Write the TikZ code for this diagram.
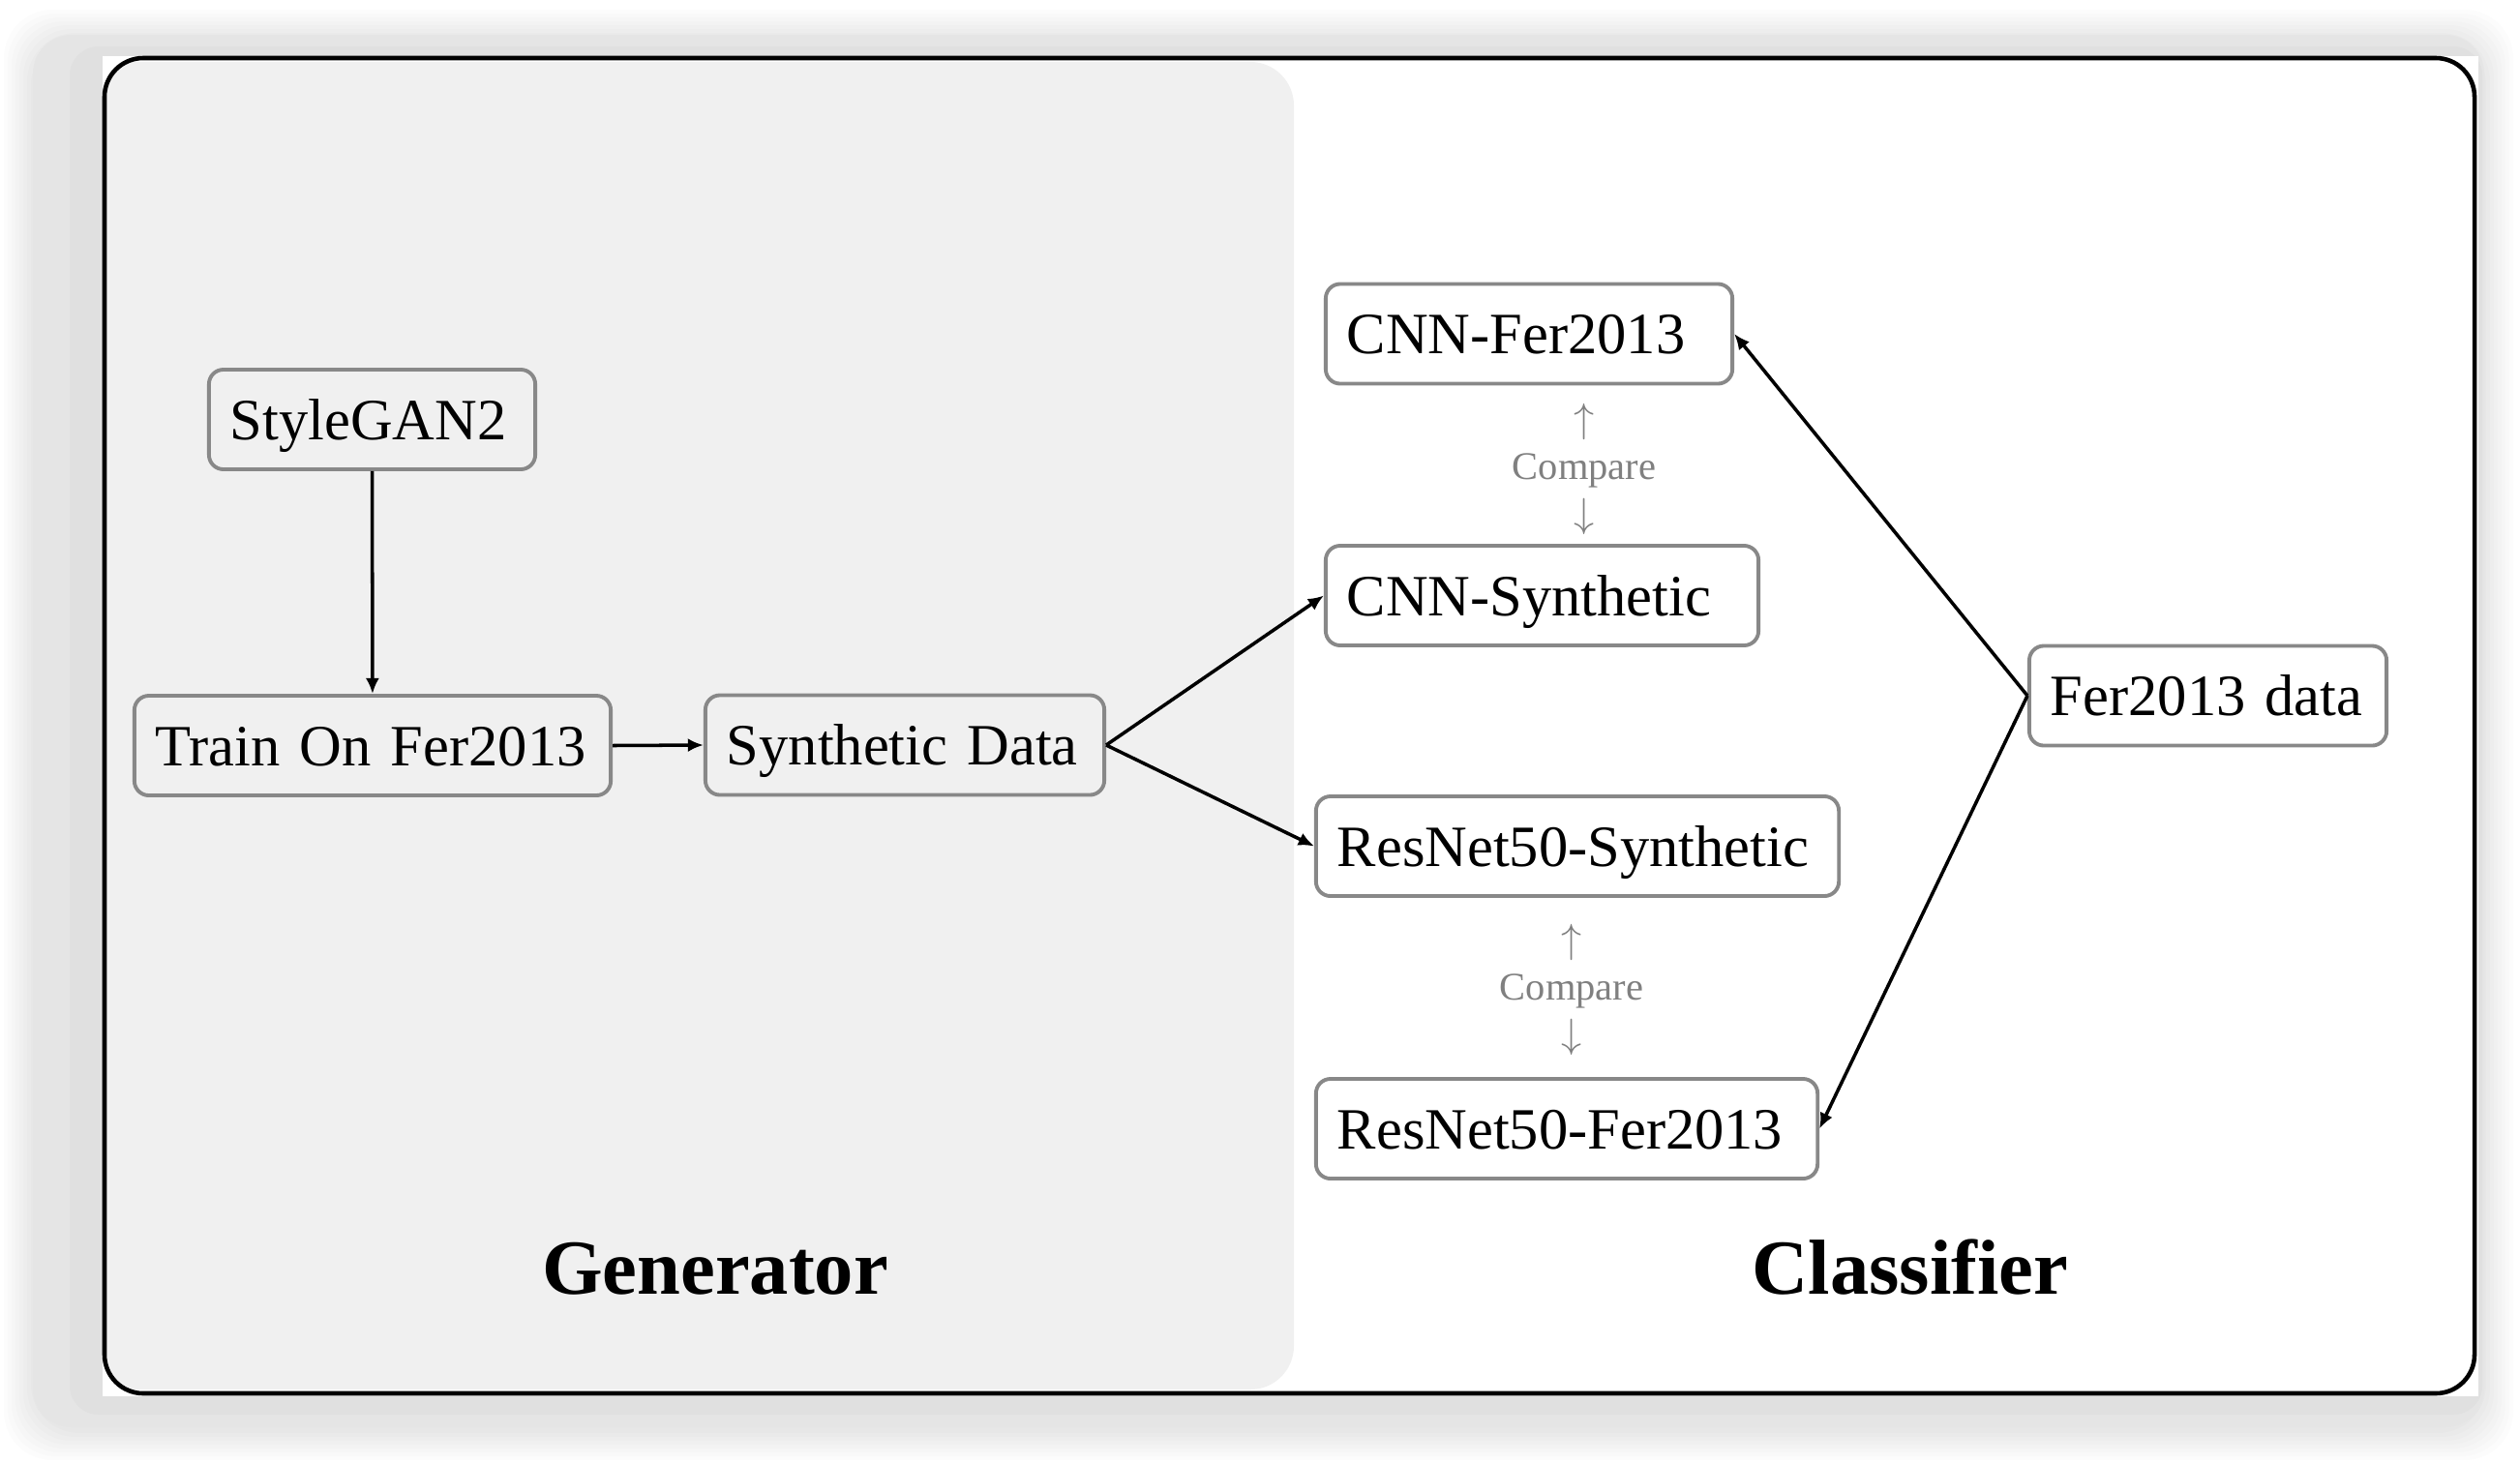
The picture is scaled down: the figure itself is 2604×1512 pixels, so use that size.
\documentclass[tikz,border=0pt]{standalone}
\usepackage{fontspec}
\setmainfont{Liberation Serif}
\usetikzlibrary{arrows.meta}
\definecolor{panelgray}{HTML}{F0F0F0}
\definecolor{framegray}{HTML}{E5E5E5}
\definecolor{bandgray}{HTML}{E0E0E0}
\definecolor{boxgray}{HTML}{888888}
\definecolor{notegray}{HTML}{808080}

\begin{document}
\begin{tikzpicture}[x=0.01cm,y=-0.01cm,
  box/.style={draw=boxgray,line width=1.1pt,rounded corners=0.15cm,
    inner xsep=0.22cm,inner ysep=0pt,minimum height=1.03cm,
    text height=0.41cm,text depth=0cm,align=left,text width=#1,
    font=\fontsize{17.2}{20}\selectfont},
  flow/.style={line width=1pt,-{Latex[length=4.6pt,width=4pt]}},
  note/.style={notegray,align=center,font=\fontsize{11.5}{13.9}\selectfont},
  title/.style={anchor=base,font=\fontsize{22.9}{27}\selectfont\bfseries}]
  \useasboundingbox (0,0) rectangle (2604,1512);
  \fill[white] (0,0) rectangle (2604,1512);
  % soft shadow and window frame
  \foreach \s in {2,6,...,30}
    \fill[black,opacity=0.012,rounded corners=0.5cm] (34-\s,40-\s) rectangle (2567+\s,1479+\s);
  \fill[framegray,rounded corners=0.4cm] (34,36) rectangle (2567,1475);
  \fill[bandgray,rounded corners=0.3cm] (72,48) rectangle (2565,1462);
  \fill[white] (106,58) rectangle (2561,1443);
  % generator panel
  \begin{scope}
    \clip[rounded corners=0.4cm] (108,60) rectangle (2557,1440);
    \fill[panelgray,rounded corners=0.45cm] (60,64) rectangle (1337,1436);
  \end{scope}
  \draw[line width=1.3pt,rounded corners=0.4cm] (108,60) rectangle (2557,1440);
  % generator side
  \node[box=2.93cm] (sg) at (384.5,433.5) {StyleGAN2};
  \node[box=4.48cm] (tr) at (385,770.5) {Train On Fer2013};
  \node[box=3.68cm] (sd) at (935,770) {Synthetic Data};
  % classifier side
  \node[box=3.76cm] (cf) at (1580,345) {CNN-Fer2013};
  \node[box=4.03cm] (cs) at (1593.5,615.5) {CNN-Synthetic};
  \node[box=4.96cm] (rs) at (1630,874.5) {ResNet50-Synthetic};
  \node[box=4.74cm] (rf) at (1619,1166.5) {ResNet50-Fer2013};
  \node[box=3.25cm] (fd) at (2281.5,719) {Fer2013 data};
  \node[note] (cmpa) at (1637,485) {$\uparrow$\\Compare\\$\downarrow$};
  \node[note] (cmpb) at (1624,1023) {$\uparrow$\\Compare\\$\downarrow$};
  % connectors
  \draw[flow] (sg) -- (tr);
  \draw[flow] (tr.east) -- (sd.west);
  \draw[flow] (sd.east) -- (cs.west);
  \draw[flow] (sd.east) -- (rs.west);
  \draw[flow] (fd.west) -- (cf.east);
  \draw[flow] (fd.west) -- (rf.east);
  % panel titles
  \node[title] (gen) at (739,1337) {Generator};
  \node[title] (cls) at (1974,1337) {Classifier};
\end{tikzpicture}
\end{document}
